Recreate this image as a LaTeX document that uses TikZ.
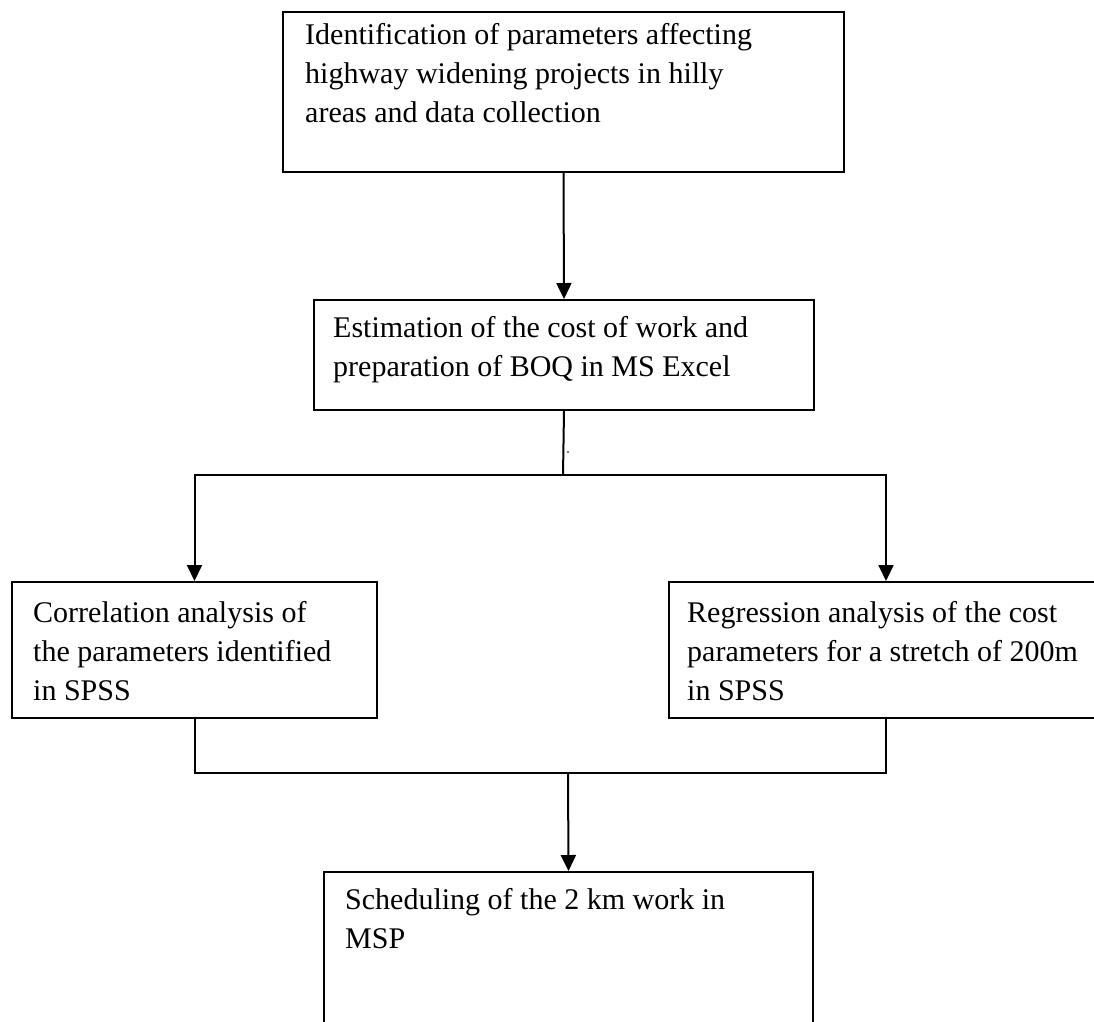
\documentclass[tikz,border=0pt]{standalone}
\usepackage{fontspec}
\setmainfont{Liberation Serif}
\usetikzlibrary{arrows.meta}
\begin{document}
\begin{tikzpicture}[x=1pt,y=-1pt,
  box/.style={draw, line width=2pt, inner sep=0pt, anchor=north west},
  txt/.style={inner sep=0pt, anchor=north west, align=left, font=\fontsize{30}{39}\selectfont},
  conn/.style={line width=2pt},
  arr/.style={conn, -{Triangle[width=15pt,length=16pt]}}]
\clip (0,0) rectangle (1094,1021);
\fill[white] (0,0) rectangle (1094,1021);
% boxes
\node[box, minimum width=561pt, minimum height=160pt] (b1) at (282,11) {};
\node[box, minimum width=500pt, minimum height=110pt] (b2) at (313,299) {};
\node[box, minimum width=365pt, minimum height=136pt] (b3) at (11,581) {};
\node[box, minimum width=450pt, minimum height=136pt] (b4) at (668,581) {};
\node[box, minimum width=489pt, minimum height=220pt] (b5) at (323,871) {};
% texts
\node[txt] (t1) at (305,23) {Identification of parameters affecting\\highway widening projects in hilly\\areas and data collection};
\node[txt] (t2) at (333,316) {Estimation of the cost of work and\\preparation of BOQ in MS Excel};
\node[txt] (t3) at (33,601) {Correlation analysis of\\the parameters identified\\in SPSS};
\node[txt] (t4) at (687,601) {Regression analysis of the cost\\parameters for a stretch of 200m\\in SPSS};
\node[txt] (t5) at (345,888) {Scheduling of the 2 km work in\\MSP};
% connectors
\coordinate (j1) at (563,475);
\coordinate (j2) at (568,773);
\coordinate (r4top) at ([xshift=218pt]b4.north west);
\coordinate (r4bot) at ([xshift=218pt]b4.south west);
\draw[arr] (b1.south) -- (b2.north);
\draw[conn] (b2.south) -- (j1);
\draw[arr] (j1) -| (b3.north);
\draw[arr] (j1) -| (r4top);
\draw[conn] (b3.south) |- (j2) -| (r4bot);
\draw[arr] (j2) -- (b5.north);
\fill (568,452) circle (0.8pt);
\end{tikzpicture}
\end{document}
